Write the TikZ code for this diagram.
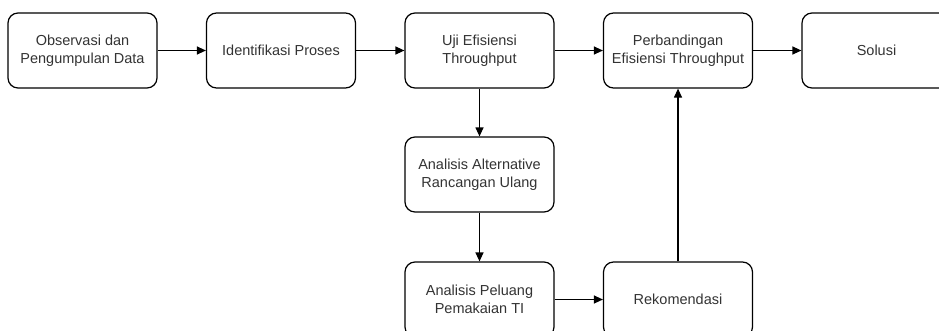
\documentclass[tikz,border=0pt]{standalone}
\usepackage{fontspec}
\setmainfont{Liberation Sans}
\usetikzlibrary{arrows.meta}
\definecolor{txtgray}{HTML}{333333}

\begin{document}
\begin{tikzpicture}[x=1pt, y=1pt, line width=1.2pt,
    procbox/.style={draw, rounded corners=10pt, minimum width=149pt, minimum height=75pt,
      inner sep=0pt, align=center, text=txtgray, font=\fontsize{14.5}{18}\selectfont},
    flow/.style={-{Triangle[length=9pt, width=8pt]}}]
      \useasboundingbox (0,0) rectangle (939,-330);

      % top row
      \node [procbox] (obs)   at (82.5, -50.5)  {Observasi dan\\Pengumpulan Data};
      \node [procbox] (ident) at (281, -50.5)   {Identifikasi Proses};
      \node [procbox] (uji)   at (479.5, -50.5) {Uji Efisiensi\\Throughput};
      \node [procbox] (banding) at (678, -50.5) {Perbandingan\\Efisiensi Throughput};
      \node [procbox] (solusi) at (876.5, -50.5) {Solusi};

      % lower part
      \node [procbox] (alt)    at (479.5, -174.5) {Analisis Alternative\\Rancangan Ulang};
      \node [procbox] (peluang) at (479.5, -299.5) {Analisis Peluang\\Pemakaian TI};
      \node [procbox] (rekom)  at (678, -299.5) {Rekomendasi};

      \draw [flow] (obs) -- (ident);
      \draw [flow] (ident) -- (uji);
      \draw [flow] (uji) -- (banding);
      \draw [flow] (banding) -- (solusi);
      \draw [flow] (uji) -- (alt);
      \draw [flow] (alt) -- (peluang);
      \draw [flow] (peluang) -- (rekom);
      \draw [flow] (rekom) -- (banding);
    \end{tikzpicture}
\end{document}
